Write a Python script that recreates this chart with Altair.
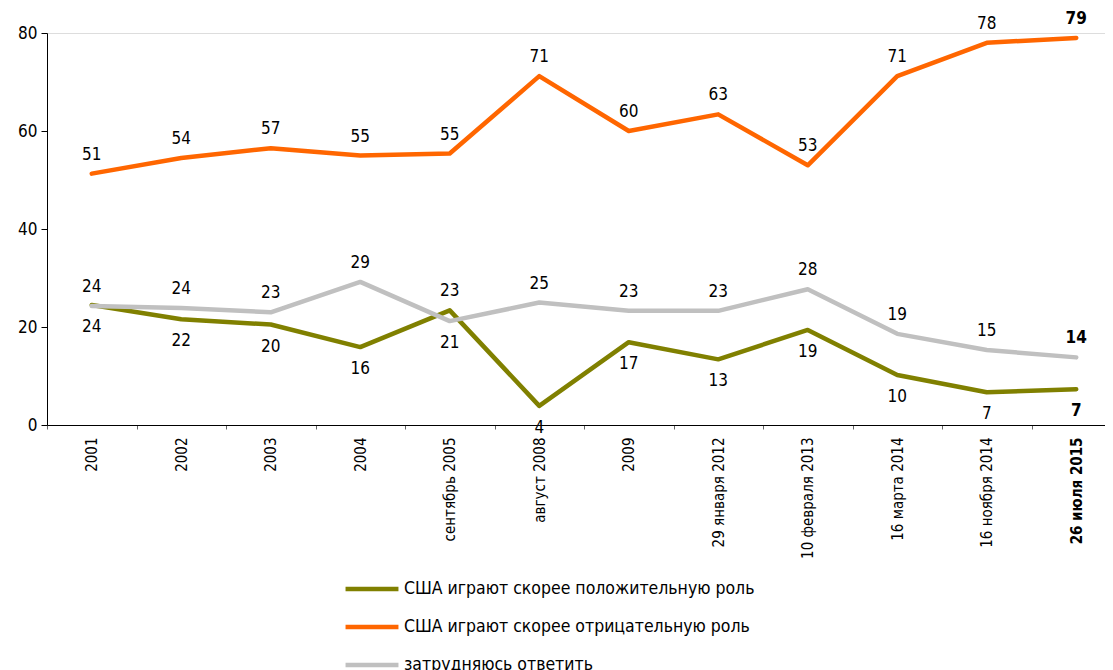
import altair as alt
import pandas as pd

categories = ["2001", "2002", "2003", "2004", "сентябрь 2005", "август 2008", "2009",
              "29 января 2012", "10 февраля 2013", "16 марта 2014", "16 ноября 2014", "26 июля 2015"]

series_names = ["США играют скорее положительную роль",
                "США играют скорее отрицательную роль",
                "затрудняюсь ответить"]
colors = ["#808000", "#ff6600", "#c0c0c0"]

positive = [24.5, 21.6, 20.5, 15.9, 23.4, 3.9, 16.9, 13.4, 19.4, 10.2, 6.7, 7.3]
negative = [51.3, 54.5, 56.5, 55.0, 55.4, 71.2, 60.0, 63.4, 53.0, 71.2, 78.0, 79.0]
hard = [24.3, 23.9, 23.0, 29.2, 21.2, 25.0, 23.3, 23.3, 27.7, 18.6, 15.3, 13.8]

positive_labels = [24, 22, 20, 16, 23, 4, 17, 13, 19, 10, 7, 7]
negative_labels = [51, 54, 57, 55, 55, 71, 60, 63, 53, 71, 78, 79]
hard_labels = [24, 24, 23, 29, 21, 25, 23, 23, 28, 19, 15, 14]

# label placement: "above" or "below" the line
positive_pos = ["below", "below", "below", "below", "above", "below", "below", "below", "below", "below", "below", "below"]
negative_pos = ["above"] * 12
hard_pos = ["above", "above", "above", "above", "below", "above", "above", "above", "above", "above", "above", "above"]

rows = []
for name, vals, labs, pos in [
    (series_names[0], positive, positive_labels, positive_pos),
    (series_names[1], negative, negative_labels, negative_pos),
    (series_names[2], hard, hard_labels, hard_pos),
]:
    for i, c in enumerate(categories):
        rows.append({"cat": c, "series": name, "value": vals[i], "label": str(labs[i]),
                     "pos": pos[i], "bold": i == len(categories) - 1})
df = pd.DataFrame(rows)

FONT = "DejaVu Sans Condensed, Roboto Condensed, Roboto, sans-serif"

x_enc = alt.X("cat:N", sort=categories, title=None,
              scale=alt.Scale(type="band", paddingInner=0, paddingOuter=0, range=[0, 1074]),
              axis=alt.Axis(labelAngle=-90, labelAlign="right", labelBaseline="middle",
                            labelFontSize=15, labelFont=FONT, labelColor="#000",
                            labelPadding=8, tickBand="extent", tickSize=4,
                            tickColor="#666", domainColor="#000",
                            labelFontWeight={"condition": {"test": "datum.value == '26 июля 2015'", "value": "bold"}, "value": "normal"}))
y_enc = alt.Y("value:Q", title=None,
              scale=alt.Scale(domain=[0, 80], nice=False, zero=True),
              axis=alt.Axis(values=[0, 20, 40, 60, 80], grid=False, labelFontSize=17,
                            labelFont=FONT, labelColor="#000", tickSize=6, tickColor="#000",
                            domainColor="#000", labelPadding=4))

color_enc = alt.Color("series:N", sort=series_names, title=None,
                      scale=alt.Scale(domain=series_names, range=colors),
                      legend=alt.Legend(orient="none", legendX=296, legendY=527, direction="vertical",
                                        symbolType="stroke", symbolSize=2800, symbolStrokeWidth=4.5,
                                        labelFontSize=17.5, labelFont=FONT, labelColor="#000",
                                        labelLimit=0, rowPadding=0, labelOffset=3))

base = alt.Chart(df)
lines = base.mark_line(strokeWidth=4.5, strokeCap="round", strokeJoin="round").encode(
    x=x_enc, y=y_enc, color=color_enc, detail="series:N")


def text_layer(pos, bold):
    off = -19 if pos == "above" else 22
    return base.transform_filter(
        f"datum.pos == '{pos}' && datum.bold == {'true' if bold else 'false'}"
    ).mark_text(fontSize=17, font=FONT, color="#000", dy=off,
                fontWeight="bold" if bold else "normal").encode(
        x=alt.X("cat:N", sort=categories), y="value:Q", text="label:N")


chart = alt.layer(
    lines,
    text_layer("above", False), text_layer("above", True),
    text_layer("below", False), text_layer("below", True),
).properties(width=1058, height=392,
             autosize=alt.AutoSizeParams(type="none"),
             padding={"left": 39, "top": 25, "right": 0, "bottom": 250}
).configure_view(stroke=None).configure(background="white")

chart.save("out.html", embed_options={"renderer": "svg", "actions": False})
